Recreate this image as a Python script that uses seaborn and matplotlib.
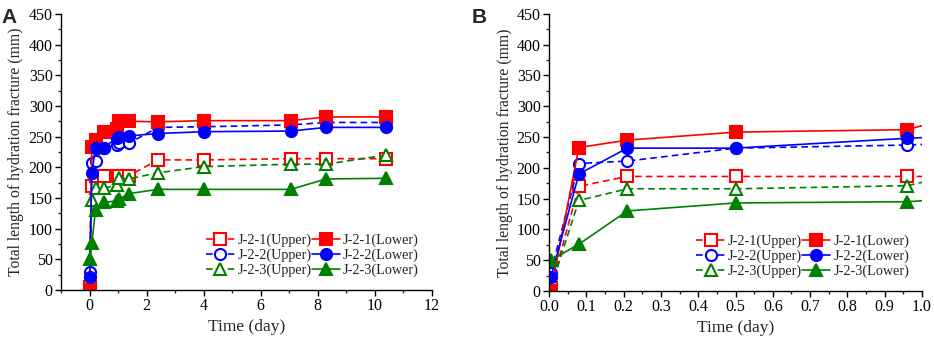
import numpy as np
import pandas as pd
import matplotlib
matplotlib.use("Agg")
import matplotlib.pyplot as plt
from matplotlib.ticker import MultipleLocator
import seaborn as sns

sns.set_style("white")
plt.rcParams['font.family'] = ['Liberation Serif', 'DejaVu Serif']
plt.rcParams['mathtext.fontset'] = 'stix'

# Data (time in days, length in mm)
time = [0.005, 0.08, 0.21, 0.5, 0.96, 1.04, 1.37, 2.4, 4.0, 7.05, 8.3, 10.4]
j21_upper = [5, 170, 186, 186, 186, 186, 186, 212, 212, 214, 214, 214]
j21_lower = [0, 233, 245, 258, 262, 275, 275, 274, 276, 276, 282, 282]
j22_upper = [30, 207, 211, 232, 237, 239, 239, 265, 266, 269, 273, 273]
j22_lower = [22, 190, 232, 232, 248, 250, 251, 255, 258, 259, 265, 265]
j23_upper = [5, 147, 166, 166, 171, 182, 181, 191, 201, 205, 205, 220]
j23_lower = [50, 76, 130, 143, 145, 148, 157, 164, 164, 164, 181, 182]

labels = ["J-2-1(Upper)", "J-2-2(Upper)", "J-2-3(Upper)",
          "J-2-1(Lower)", "J-2-2(Lower)", "J-2-3(Lower)"]
series = [j21_upper, j22_upper, j23_upper, j21_lower, j22_lower, j23_lower]
colors = ["#ff0000", "#0000ff", "#008000", "#ff0000", "#0000ff", "#008000"]
markers = ["s", "o", "^", "s", "o", "^"]
filled = [False, False, False, True, True, True]

fig = plt.figure(figsize=(9.34, 3.38), dpi=100)
axA = fig.add_axes([0.0653, 0.142, 0.397, 0.817])
axB = fig.add_axes([0.5878, 0.139, 0.3994, 0.820])


def draw(ax):
    for lab, ys, c, m, f in zip(labels, series, colors, markers, filled):
        df = pd.DataFrame({"t": time, "v": ys})
        sns.lineplot(data=df, x="t", y="v", ax=ax, color=c, marker=m,
                     markersize=8,
                     markeredgecolor=c, markeredgewidth=1.5,
                     markerfacecolor=c if f else "white",
                     linestyle="-" if f else (0, (4, 2.5)),
                     linewidth=1.2, label=lab, legend=False,
                     estimator=None, sort=False)
    ax.set_ylim(0, 450)
    ax.yaxis.set_major_locator(MultipleLocator(50))
    ax.yaxis.set_minor_locator(MultipleLocator(25))
    ax.set_ylabel("Total length of hydration fracture (mm)", fontsize=11.3, labelpad=3)
    ax.set_xlabel("Time (day)", fontsize=12.5, labelpad=3)
    for s in ["top", "right"]:
        ax.spines[s].set_visible(False)
    for s in ["left", "bottom"]:
        ax.spines[s].set_color("black")
        ax.spines[s].set_linewidth(1.0)
    ax.tick_params(which="major", direction="out", length=4, width=1,
                   labelsize=11.5, colors="black", pad=2, bottom=True, left=True)
    ax.tick_params(which="minor", direction="out", length=2, width=1,
                   bottom=True, left=True)
    handles, labs = ax.get_legend_handles_labels()
    ax.legend(handles, labs, ncol=2, loc="lower right",
              bbox_to_anchor=(1.0, 0.0), frameon=False, fontsize=10.3,
              handlelength=2.0, handletextpad=0.2, columnspacing=0.0,
              labelspacing=0.1, borderaxespad=0.5)


draw(axA)
axA.set_xlim(-1, 12)
axA.xaxis.set_major_locator(MultipleLocator(2))
axA.xaxis.set_minor_locator(MultipleLocator(1))

draw(axB)
axB.set_xlim(0, 1.0)
axB.xaxis.set_major_locator(MultipleLocator(0.1))
axB.xaxis.set_minor_locator(MultipleLocator(0.05))
axB.xaxis.set_major_formatter(matplotlib.ticker.FormatStrFormatter("%.1f"))

fig.text(0.002, 0.975, "A", fontsize=15, fontweight="bold",
         family=["Liberation Sans", "DejaVu Sans"], va="top", ha="left")
fig.text(0.505, 0.975, "B", fontsize=15, fontweight="bold",
         family=["Liberation Sans", "DejaVu Sans"], va="top", ha="left")

fig.savefig("out.png", dpi=100)
